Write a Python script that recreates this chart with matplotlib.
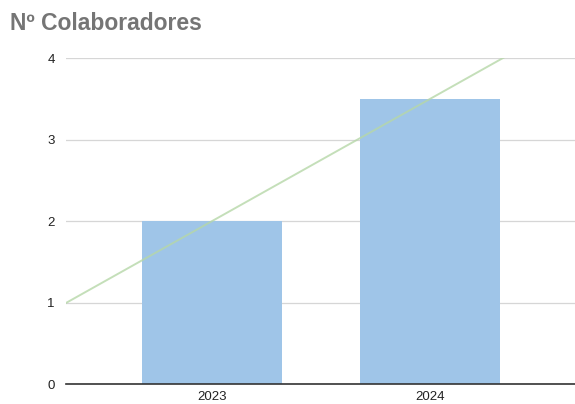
import numpy as np
from matplotlib import pyplot as plt

plt.rcParams['font.family'] = ['Liberation Sans', 'DejaVu Sans']

# Datos del gráfico
years = ['2023', '2024']
colaboradores = [2, 3.5]
y_ticks = [0, 1, 2, 3, 4]

fig = plt.figure(figsize=(5.75, 4.04), dpi=100)
ax = fig.add_axes([0.1148, 0.0495, 0.8852, 0.8065])

x = np.arange(len(years))
ax.bar(x, colaboradores, width=0.642, color='#9fc5e8', zorder=2)

# Línea de tendencia lineal
slope, intercept = np.polyfit(x, colaboradores, 1)
x_lim = (-0.67, 1.665)
xs = np.array(x_lim)
ax.plot(xs, slope * xs + intercept, color='#b6d7a8', lw=1.4, alpha=0.8, zorder=3)

ax.set_xlim(*x_lim)
ax.set_ylim(0, 4)
ax.set_yticks(y_ticks)
ax.set_xticks(x, years)
ax.grid(axis='y', color='#d6d6d6', lw=0.9, zorder=0)
ax.set_axisbelow(True)

for s in ['top', 'right', 'left']:
    ax.spines[s].set_visible(False)
ax.spines['bottom'].set_color('#333333')
ax.spines['bottom'].set_linewidth(1.2)
ax.spines['bottom'].set_zorder(4)

ax.tick_params(axis='both', length=0, labelsize=9.5, labelcolor='#222222')
ax.tick_params(axis='y', pad=8)
ax.tick_params(axis='x', pad=5)

fig.text(0.017, 0.943, 'Nº Colaboradores', fontsize=16.5, fontweight='bold',
         color='#757575', va='center', ha='left')

fig.savefig('out.png')
plt.close(fig)
